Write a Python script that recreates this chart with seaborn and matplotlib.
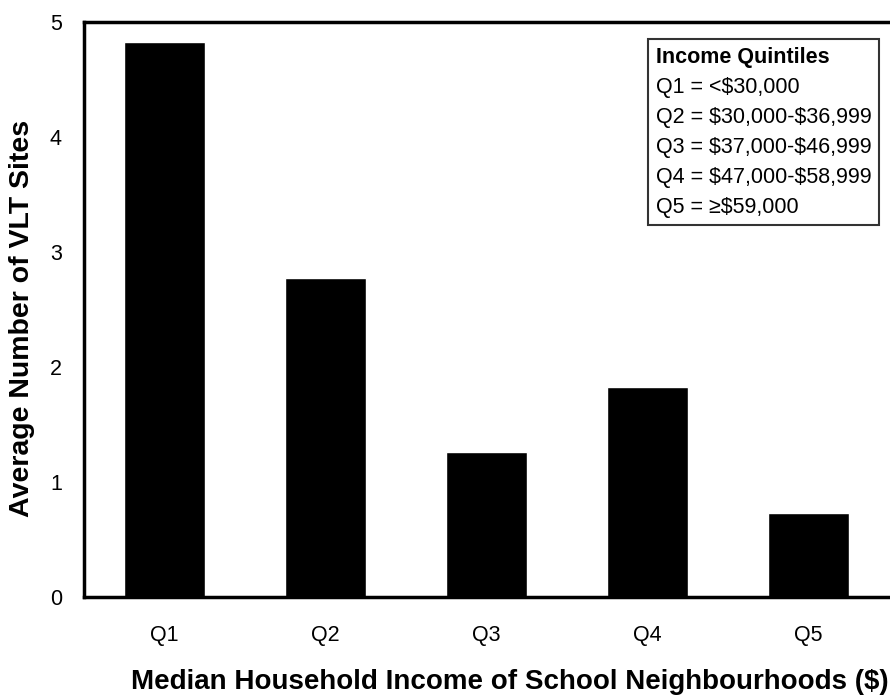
import matplotlib
matplotlib.use("Agg")
import matplotlib.pyplot as plt
import matplotlib.patches as mpatches
import seaborn as sns
import pandas as pd

quintiles = ["Q1", "Q2", "Q3", "Q4", "Q5"]
avg_sites = [4.83, 2.77, 1.26, 1.83, 0.73]
legend_title = "Income Quintiles"
legend_rows = [
    "Q1 = <$30,000",
    "Q2 = $30,000-$36,999",
    "Q3 = $37,000-$46,999",
    "Q4 = $47,000-$58,999",
    "Q5 = \u2265$59,000",
]

sns.set_style("white")
plt.rcParams["font.family"] = ["Liberation Sans", "DejaVu Sans"]
plt.rcParams["text.parse_math"] = False
plt.rcParams["text.color"] = "black"
plt.rcParams["axes.labelcolor"] = "black"
plt.rcParams["xtick.color"] = "black"
plt.rcParams["ytick.color"] = "black"

df = pd.DataFrame({"quintile": quintiles, "sites": avg_sites})

fig = plt.figure(figsize=(8.9, 6.97), dpi=100)
ax = fig.add_axes([84 / 890, 1 - 597 / 697, 805 / 890, 575 / 697])

sns.barplot(data=df, x="quintile", y="sites", color="black", width=0.5,
            saturation=1, ax=ax)

ax.set_ylim(0, 5)
ax.set_xlim(-0.5, 4.5)
ax.set_yticks([0, 1, 2, 3, 4, 5])

# ticks on category boundaries, labels centred under the bars
ax.set_xticks([-0.5, 0.5, 1.5, 2.5, 3.5, 4.5])
ax.set_xticklabels([])
ax.set_xticks(range(5), minor=True)
ax.set_xticklabels(quintiles, minor=True)
ax.tick_params(axis="x", which="minor", length=0, pad=20, labelsize=15.5)
ax.tick_params(axis="x", which="major", direction="out", length=6, width=1,
               color="black")
ax.tick_params(axis="y", direction="out", length=6, width=1, color="black",
               labelsize=15.5, pad=10)

for side in ["left", "bottom", "top"]:
    ax.spines[side].set_color("black")
    ax.spines[side].set_linewidth(2.5)
ax.spines["right"].set_visible(False)

ax.set_xlabel("Median Household Income of School Neighbourhoods ($)",
              fontsize=20, fontweight="bold")
ax.xaxis.set_label_coords(426 / 805, -72 / 575)
ax.set_ylabel("Average Number of VLT Sites", fontsize=20.5, fontweight="bold")
ax.yaxis.set_label_coords(-49 / 805, 0.485)

handles = [mpatches.Patch(color="none") for _ in legend_rows]
leg = ax.legend(handles, legend_rows, title=legend_title, loc="upper right",
                bbox_to_anchor=(795 / 805, 1 - 17 / 575), borderaxespad=0,
                handlelength=0, handletextpad=0, fontsize=15.5, frameon=True,
                fancybox=False, borderpad=0.35, labelspacing=0.42,
                alignment="left", labelcolor="black")
leg.get_title().set_fontweight("bold")
leg.get_title().set_fontsize(15.5)
leg.get_frame().set_edgecolor("black")
leg.get_frame().set_linewidth(1.5)

fig.savefig("out.png", dpi=100)
